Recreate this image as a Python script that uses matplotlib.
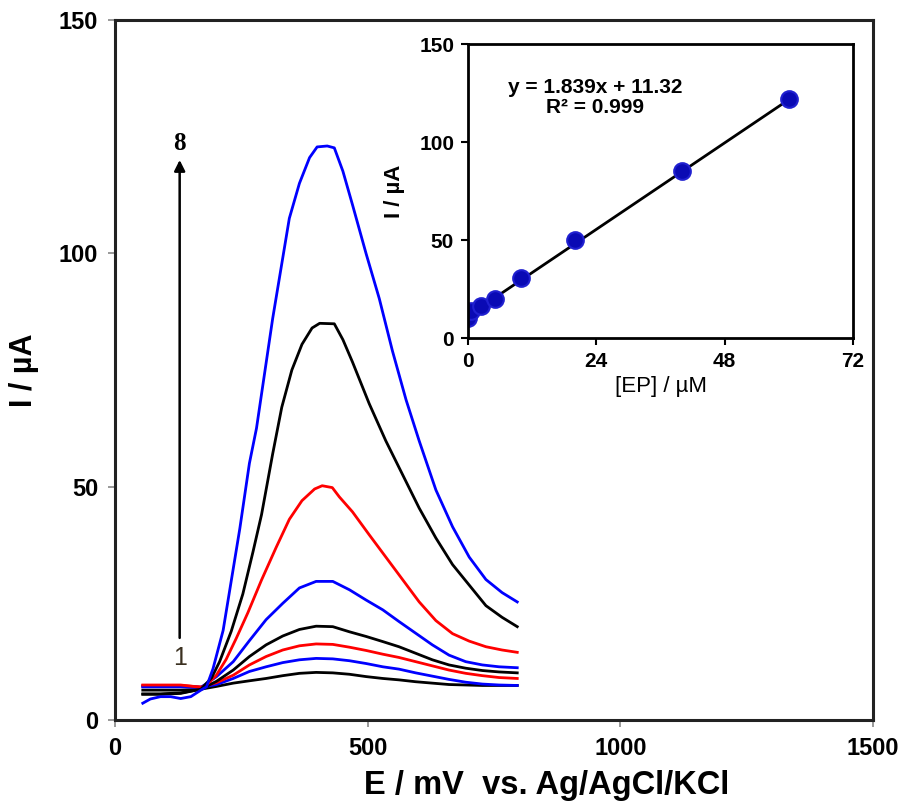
import matplotlib
matplotlib.use("Agg")
import matplotlib.pyplot as plt
import numpy as np

plt.rcParams['font.family'] = ['Liberation Sans', 'DejaVu Sans']

# --- main voltammograms (E in mV, I in uA) ---
E_low = [55, 90, 130, 170, 201, 234, 266, 299, 332, 365, 398, 431, 464,
         497, 530, 562, 595, 628, 661, 694, 727, 760, 796]
I_1 = [6.4, 6.4, 6.4, 6.6, 7.2, 7.9, 8.4, 8.9, 9.5, 10.0, 10.2, 10.1, 9.8,
       9.3, 8.9, 8.6, 8.2, 7.9, 7.6, 7.5, 7.4, 7.4, 7.4]
I_2 = [7.1, 7.1, 7.1, 7.0, 7.6, 8.9, 10.4, 11.4, 12.3, 12.9, 13.2, 13.1, 12.7,
       12.1, 11.4, 10.9, 10.1, 9.4, 8.7, 8.1, 7.7, 7.5, 7.4]
I_3 = [7.4, 7.4, 7.4, 7.1, 8.0, 9.6, 11.8, 13.6, 15.0, 15.9, 16.3, 16.2, 15.6,
       14.9, 14.1, 13.4, 12.5, 11.6, 10.7, 10.0, 9.5, 9.1, 8.9]
I_4 = [5.6, 5.6, 5.8, 6.6, 8.3, 10.7, 13.6, 16.1, 18.0, 19.4, 20.1, 20.0, 18.9,
       17.9, 16.8, 15.7, 14.3, 12.9, 11.8, 11.1, 10.6, 10.3, 10.1]
I_5 = [7.2, 7.2, 7.2, 7.0, 9.3, 12.5, 17.0, 21.5, 25.0, 28.3, 29.7, 29.7, 27.9,
       25.7, 23.6, 21.1, 18.6, 16.1, 13.9, 12.5, 11.8, 11.4, 11.2]

E_6 = [55, 90, 130, 170, 181, 200, 220, 240, 263, 290, 319, 345, 370, 395,
       410, 430, 444, 470, 503, 536, 569, 602, 635, 668, 701, 734, 766, 796]
I_6 = [7.5, 7.5, 7.5, 7.0, 7.5, 9.5, 13.0, 17.5, 23.0, 30.0, 37.0, 43.0, 47.0,
       49.5, 50.2, 49.8, 47.8, 44.6, 39.7, 34.9, 30.1, 25.3, 21.3, 18.5, 16.9,
       15.7, 15.0, 14.5]

E_7 = [55, 90, 130, 170, 191, 207, 230, 253, 273, 290, 312, 330, 350, 370,
       390, 405, 434, 451, 470, 503, 536, 569, 602, 635, 668, 701, 734, 766, 796]
I_7 = [5.5, 5.5, 5.7, 6.6, 9.0, 12.5, 19.0, 27.0, 36.0, 44.0, 57.0, 67.0, 75.0,
       80.5, 84.0, 85.0, 84.9, 81.5, 76.7, 67.8, 59.8, 52.6, 45.4, 39.0, 33.3,
       28.9, 24.5, 22.0, 20.0]

E_8 = [55, 70, 90, 110, 130, 150, 170, 181, 194, 214, 247, 266, 280, 312, 345,
       365, 385, 400, 420, 434, 451, 470, 497, 523, 549, 576, 602, 635, 668,
       701, 734, 766, 796]
I_8 = [3.6, 4.5, 5.0, 5.0, 4.6, 5.0, 6.4, 7.1, 11.0, 19.2, 41.0, 55.0, 62.5,
       86.0, 107.5, 115.0, 120.5, 122.8, 123.0, 122.6, 117.6, 110.4, 99.9,
       90.3, 79.1, 68.6, 59.8, 49.3, 41.4, 34.9, 30.1, 27.3, 25.3]

curves = [(E_low, I_1, 'black'), (E_low, I_2, 'blue'), (E_low, I_3, 'red'),
          (E_low, I_4, 'black'), (E_low, I_5, 'blue'), (E_6, I_6, 'red'),
          (E_7, I_7, 'black'), (E_8, I_8, 'blue')]

# --- inset calibration data ---
conc = [0, 0.5, 2.5, 5, 10, 20, 40, 60]
peak = [10.2, 14.0, 16.5, 19.9, 30.6, 49.8, 85.0, 122.0]
slope, intercept = 1.839, 11.32
fit_x = [0, 60]

fig = plt.figure(figsize=(8.99, 8.06), dpi=100)
ax = fig.add_axes([0.1279, 0.1067, 0.8432, 0.8685])
for e, i, c in curves:
    ax.plot(e, i, color=c, lw=2.0)
ax.set_xlim(0, 1500)
ax.set_ylim(0, 150)
ax.set_xticks([0, 500, 1000, 1500])
ax.set_yticks([0, 50, 100, 150])
ax.tick_params(direction='out', length=5, width=1.2, color='#888888',
               labelsize=17, pad=7)
for lab in ax.get_xticklabels() + ax.get_yticklabels():
    lab.set_fontweight('bold')
for s in ax.spines.values():
    s.set_linewidth(2.2)
    s.set_color('#222222')
ax.set_xlabel('E / mV  vs. Ag/AgCl/KCl', fontsize=23.5, fontweight='bold')
ax.xaxis.set_label_coords(0.569, -0.072)
ax.set_ylabel('I / µA', fontsize=22, fontweight='bold', labelpad=14)

# arrow 1 -> 8
ax.annotate('', xy=(128, 120.6), xytext=(128, 17.0),
            arrowprops=dict(arrowstyle='-|>', color='black', lw=1.8,
                            mutation_scale=16))
ax.text(128, 123.5, '8', ha='center', va='center', fontsize=18,
        fontweight='bold', family='Liberation Serif')
ax.text(128, 13.3, '1', ha='center', va='center', fontsize=18,
        color='#3a3020')

# inset
ins = fig.add_axes([0.5206, 0.5806, 0.4283, 0.3648])
ins.plot(fit_x, [slope * x + intercept for x in fit_x], color='black', lw=2)
ins.plot(conc, peak, 'o', color='#0a0ab4', ms=12, mec='#2020d0', mew=1.5)
ins.set_xlim(0, 72)
ins.set_ylim(0, 150)
ins.set_xticks([0, 24, 48, 72])
ins.set_yticks([0, 50, 100, 150])
ins.tick_params(direction='out', length=5, width=1.5, labelsize=15, pad=5)
for lab in ins.get_xticklabels() + ins.get_yticklabels():
    lab.set_fontweight('bold')
for s in ins.spines.values():
    s.set_linewidth(2)
ins.set_xlabel('[EP] / µM', fontsize=16, labelpad=4)
ins.set_ylabel('I / µA', fontsize=16, fontweight='bold', labelpad=10)
ins.text(0.33, 0.818, 'y = 1.839x + 11.32\nR² = 0.999', transform=ins.transAxes,
         ha='center', va='center', fontsize=15, fontweight='bold',
         linespacing=1.05)

fig.savefig('out.png', dpi=100)
